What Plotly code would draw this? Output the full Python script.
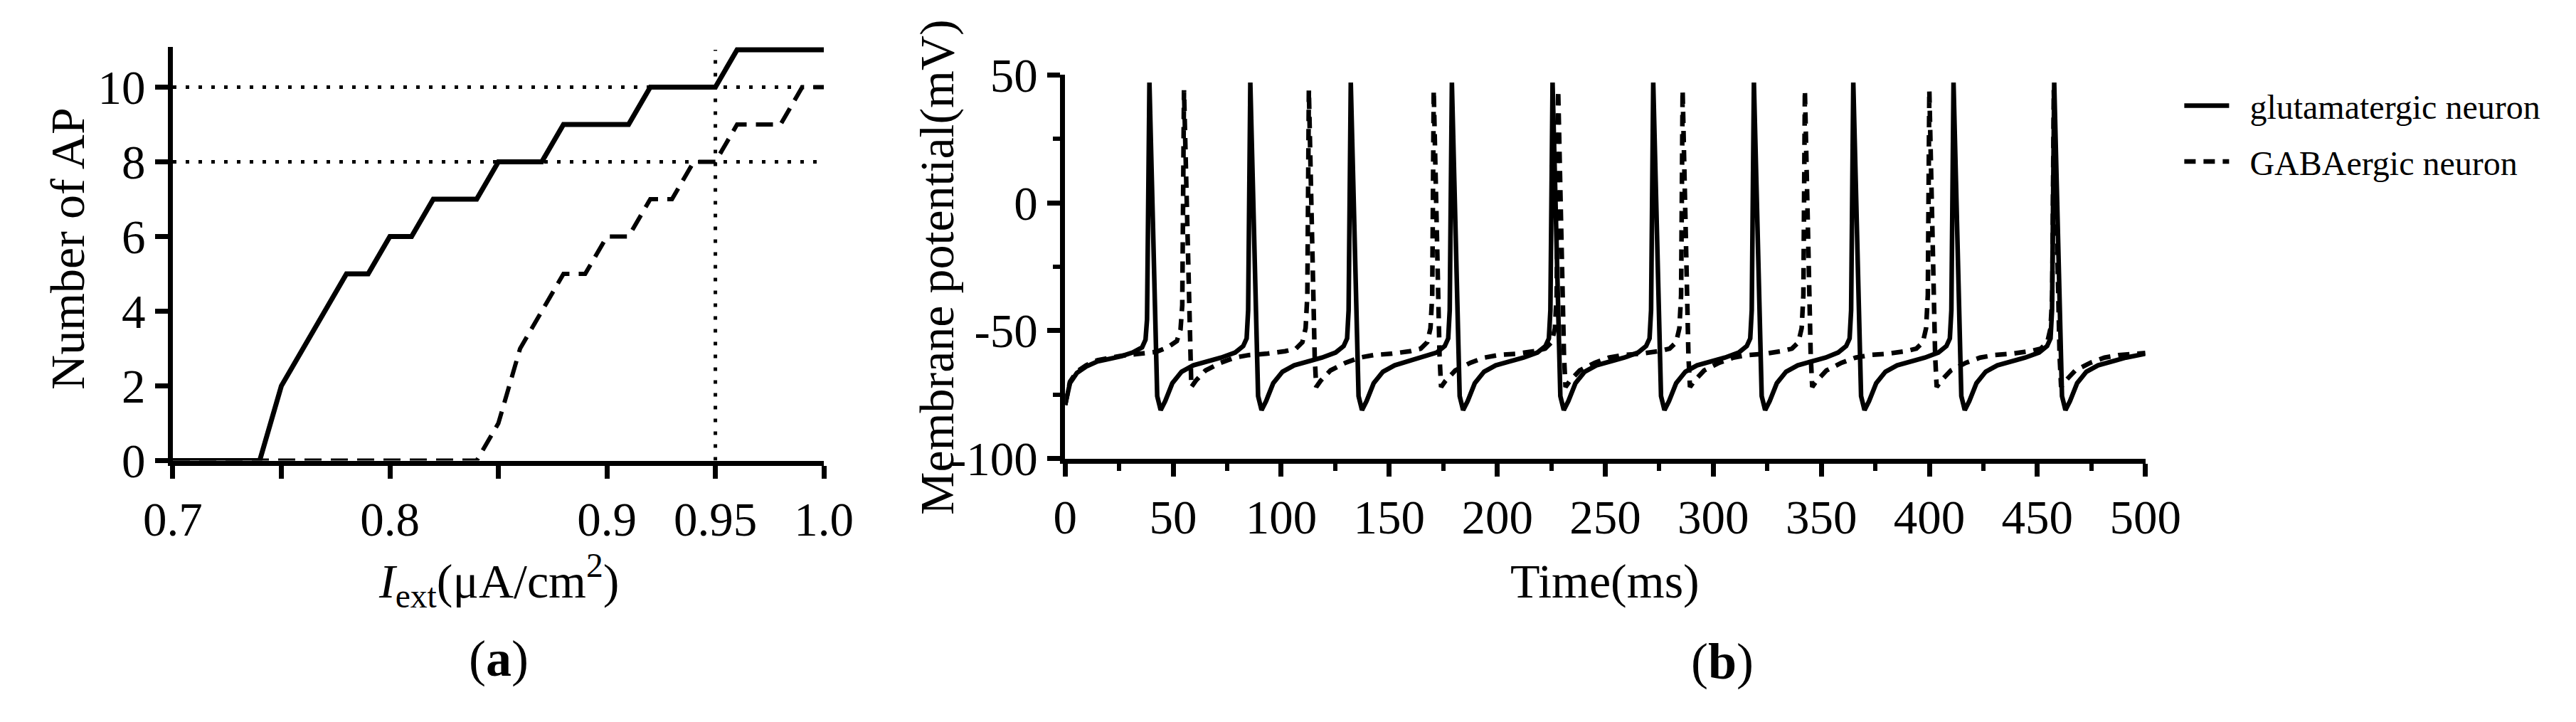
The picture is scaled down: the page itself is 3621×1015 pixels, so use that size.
import plotly.graph_objects as go

# ---- panel (a): number of action potentials vs external current ----
i_ext = [0.70, 0.71, 0.72, 0.73, 0.74, 0.75, 0.76, 0.77, 0.78, 0.79, 0.80,
         0.81, 0.82, 0.83, 0.84, 0.85, 0.86, 0.87, 0.88, 0.89, 0.90,
         0.91, 0.92, 0.93, 0.94, 0.95, 0.96, 0.97, 0.98, 0.99, 1.00]
ap_glu = [0, 0, 0, 0, 0, 2, 3, 4, 5, 5, 6,
          6, 7, 7, 7, 8, 8, 8, 9, 9, 9,
          9, 10, 10, 10, 10, 11, 11, 11, 11, 11]
ap_gaba = [0, 0, 0, 0, 0, 0, 0, 0, 0, 0, 0,
           0, 0, 0, 0, 1, 3, 4, 5, 5, 6,
           6, 7, 7, 8, 8, 9, 9, 9, 10, 10]
ref_levels = [8, 10]
ref_current = 0.95
a_xticks = [0.7, 0.75, 0.8, 0.85, 0.9, 0.95, 1.0]
a_xlabels = ["0.7", "", "0.8", "", "0.9", "0.95", "1.0"]
a_yticks = [0, 2, 4, 6, 8, 10]

# ---- panel (b): membrane potential traces ----
t_glu = [0, 2.2, 5.4, 9.7, 15.0, 20.5, 25.9, 31.2, 35.6, 37.2, 37.9, 39.0,
         42.6, 44.2, 46.3, 49.6, 53.9, 59.3, 65.7, 72.2, 78.7, 82.4, 84.0, 84.7, 85.7,
         89.3, 90.9, 93.0, 96.3, 100.6, 106.0, 112.4, 118.9, 125.2, 128.9, 130.5, 131.2, 132.2,
         135.8, 137.4, 139.5, 142.8, 147.1, 152.5, 158.9, 165.4, 172.0, 175.7, 177.3, 178.0, 179.0,
         182.6, 184.2, 186.3, 189.6, 193.9, 199.3, 205.7, 212.2, 218.6, 222.3, 223.9, 224.6, 225.6,
         229.2, 230.8, 232.9, 236.2, 240.5, 245.9, 252.3, 258.8, 265.2, 268.9, 270.5, 271.2, 272.2,
         275.8, 277.4, 279.5, 282.8, 287.1, 292.5, 298.9, 305.4, 311.8, 315.5, 317.1, 317.8, 318.8,
         322.4, 324.0, 326.1, 329.4, 333.7, 339.1, 345.5, 352.0, 357.8, 361.5, 363.1, 363.8, 364.8,
         368.4, 370.0, 372.1, 375.4, 379.7, 385.1, 391.5, 398.0, 404.2, 407.9, 409.5, 410.2, 411.2,
         414.8, 416.4, 418.5, 421.8, 426.1, 431.5, 437.9, 444.4, 450.8, 454.5, 456.1, 456.8, 457.8,
         461.4, 463.0, 465.1, 468.4, 472.7, 478.1, 484.5, 491.0, 500.0]
v_glu = [-79, -70.5, -66.5, -64, -62, -61, -60, -58.5, -56.5, -53.5, -45.5, 47,
         -75.5, -81, -77.5, -70.5, -66, -63.5, -62, -60.5, -58.5, -56, -53, -42, 47,
         -75.5, -81, -77.5, -70.5, -66, -63.5, -62, -60.5, -58.5, -56, -53, -42, 47,
         -75.5, -81, -77.5, -70.5, -66, -63.5, -62, -60.5, -58.5, -56, -53, -42, 47,
         -75.5, -81, -77.5, -70.5, -66, -63.5, -62, -60.5, -58.5, -56, -53, -42, 47,
         -75.5, -81, -77.5, -70.5, -66, -63.5, -62, -60.5, -58.5, -56, -53, -42, 47,
         -75.5, -81, -77.5, -70.5, -66, -63.5, -62, -60.5, -58.5, -56, -53, -42, 47,
         -75.5, -81, -77.5, -70.5, -66, -63.5, -62, -60.5, -58.5, -56, -53, -42, 47,
         -75.5, -81, -77.5, -70.5, -66, -63.5, -62, -60.5, -58.5, -56, -53, -42, 47,
         -75.5, -81, -77.5, -70.5, -66, -63.5, -62, -60.5, -58.5, -56, -53, -42, 47,
         -75.5, -81, -77.5, -70.5, -66, -63.5, -62, -60.5, -59]

t_gaba = [0, 2.2, 5.4, 9.7, 15.0, 20.5, 25.9, 31.2, 36.6, 42.0, 47.4, 51.7, 53.4, 54.2, 55.0,
          57.7, 58.4, 60.5, 65.0, 72.0, 78.5, 85.0, 93.0, 101.8, 106.8, 109.8, 111.3, 112.1, 112.8,
          115.5, 116.2, 118.3, 122.8, 129.8, 136.3, 142.8, 150.8, 159.6, 164.6, 167.6, 169.1, 169.9, 170.6,
          173.3, 174.0, 176.1, 180.6, 187.6, 194.1, 200.6, 208.6, 217.2, 222.2, 225.2, 226.7, 227.5, 228.2,
          230.9, 231.6, 233.7, 238.2, 245.2, 251.7, 258.2, 266.2, 274.8, 279.8, 282.8, 284.3, 285.1, 285.8,
          288.5, 289.2, 291.3, 295.8, 302.8, 309.3, 315.8, 323.8, 331.4, 336.4, 339.4, 340.9, 341.7, 342.4,
          345.1, 345.8, 347.9, 352.4, 359.4, 365.9, 372.4, 380.4, 389.0, 394.0, 397.0, 398.5, 399.3, 400.0,
          402.7, 403.4, 405.5, 410.0, 417.0, 423.5, 430.0, 438.0, 446.6, 451.6, 454.6, 456.1, 456.9, 457.6,
          460.3, 461.0, 463.1, 467.6, 474.6, 481.1, 487.6, 495.6, 500.0]
v_gaba = [-79, -70, -66, -63.5, -61.5, -60.5, -59.8, -59.3, -59, -58.3, -56.5, -54, -49.5, -40, 44,
          -60, -72, -69.5, -65.5, -62.5, -60.5, -59.5, -59, -58, -57, -54.5, -49, -36, 44,
          -60, -72, -69.5, -65.5, -62.5, -60.5, -59.5, -59, -58, -57, -54.5, -49, -36, 44,
          -60, -72, -69.5, -65.5, -62.5, -60.5, -59.5, -59, -58, -57, -54.5, -49, -36, 44,
          -60, -72, -69.5, -65.5, -62.5, -60.5, -59.5, -59, -58, -57, -54.5, -49, -36, 44,
          -60, -72, -69.5, -65.5, -62.5, -60.5, -59.5, -59, -58, -57, -54.5, -49, -36, 44,
          -60, -72, -69.5, -65.5, -62.5, -60.5, -59.5, -59, -58, -57, -54.5, -49, -36, 44,
          -60, -72, -69.5, -65.5, -62.5, -60.5, -59.5, -59, -58, -57, -54.5, -49, -36, 44,
          -60, -72, -69.5, -65.5, -62.5, -60.5, -59.5, -59, -58.7]
b_xticks = [0, 50, 100, 150, 200, 250, 300, 350, 400, 450, 500]
b_yticks = [-100, -50, 0, 50]
b_ylabels = ["-100", "-50", "0", "50"]

W, H = 3621, 1015
FONT = "Liberation Serif, Times New Roman, DejaVu Serif, serif"
NB = "\u00a0\u00a0"


def px(x):
    return x / W


def py(y):
    return 1 - y / H


fig = go.Figure()

# reference lines in (a)
for lvl in ref_levels:
    fig.add_trace(go.Scatter(x=[i_ext[0], i_ext[-1]], y=[lvl, lvl], mode="lines",
                             line=dict(color="black", width=5, dash="5px,13px"),
                             showlegend=False, xaxis="x", yaxis="y"))
fig.add_trace(go.Scatter(x=[ref_current, ref_current], y=[0, max(ap_glu)], mode="lines",
                         line=dict(color="black", width=5, dash="5px,13px"),
                         showlegend=False, xaxis="x", yaxis="y"))

fig.add_trace(go.Scatter(x=i_ext, y=ap_gaba, mode="lines",
                         line=dict(color="black", width=6, dash="24px,13px"),
                         showlegend=False, xaxis="x", yaxis="y"))
fig.add_trace(go.Scatter(x=i_ext, y=ap_glu, mode="lines",
                         line=dict(color="black", width=7),
                         showlegend=False, xaxis="x", yaxis="y"))

# traces in (b)
fig.add_trace(go.Scatter(x=t_glu, y=v_glu, mode="lines", name=NB + "glutamatergic neuron",
                         legendgroup="g1",
                         line=dict(color="black", width=6.5), xaxis="x2", yaxis="y2"))
fig.add_trace(go.Scatter(x=t_gaba, y=v_gaba, mode="lines", name=NB + "GABAergic neuron",
                         legendgroup="g2",
                         line=dict(color="black", width=6.5, dash="16px,11px"),
                         xaxis="x2", yaxis="y2"))

axis_common = dict(showgrid=False, zeroline=False, showline=True, linecolor="black",
                   linewidth=7, ticks="outside", ticklen=18, tickwidth=7,
                   tickcolor="black", tickfont=dict(family=FONT, size=67, color="black"))

fig.update_layout(
    width=W, height=H,
    margin=dict(l=0, r=0, t=0, b=0),
    paper_bgcolor="white", plot_bgcolor="white",
    font=dict(family=FONT, color="black"),
    xaxis=dict(domain=[px(198), px(1137)], range=[0.7, 1.0], anchor="y",
               tickmode="array", tickvals=a_xticks, ticktext=a_xlabels, **axis_common),
    yaxis=dict(domain=[py(650), py(650 - 11.08 * 56.64)], range=[0, 11.08], anchor="x",
               tickmode="array", tickvals=a_yticks, **axis_common),
    xaxis2=dict(domain=[px(1485), px(3043)], range=[0, 500], anchor="y2",
                tickmode="array", tickvals=b_xticks,
                minor=dict(tickmode="linear", tick0=0, dtick=25, ticks="outside",
                           ticklen=10, tickwidth=6, tickcolor="black"),
                **axis_common),
    yaxis2=dict(domain=[py(647), py(65)], range=[-100, 50], anchor="x2",
                tickmode="array", tickvals=b_yticks, ticktext=b_ylabels,
                minor=dict(tickmode="linear", tick0=0, dtick=25, ticks="outside",
                           ticklen=10, tickwidth=6, tickcolor="black"),
                **axis_common),
    legend=dict(x=px(3094), y=py(71), xanchor="left", yanchor="top",
                font=dict(family=FONT, size=48, color="black"),
                itemwidth=63, tracegroupgap=13, bgcolor="rgba(0,0,0,0)"),
)

title_font = dict(family=FONT, size=68, color="black")


def label(text, x, y, angle=0, font=title_font):
    fig.add_annotation(text=text, x=px(x), y=py(y), xref="paper", yref="paper",
                       xanchor="center", yanchor="middle", textangle=angle,
                       showarrow=False, font=font)


label("Number of AP", 46, 328, angle=-90)
label("Membrane potential(mV)", 1300, 356, angle=-90)
label("<i>I</i><sub>ext</sub>(μA/cm<sup>2</sup>)", 668, 832)
label("Time(ms)", 2264, 833)
label("(<b>a</b>)", 668, 950, font=dict(family=FONT, size=72, color="black"))
label("(<b>b</b>)", 2433, 955, font=dict(family=FONT, size=72, color="black"))

fig.write_html("out.html")
